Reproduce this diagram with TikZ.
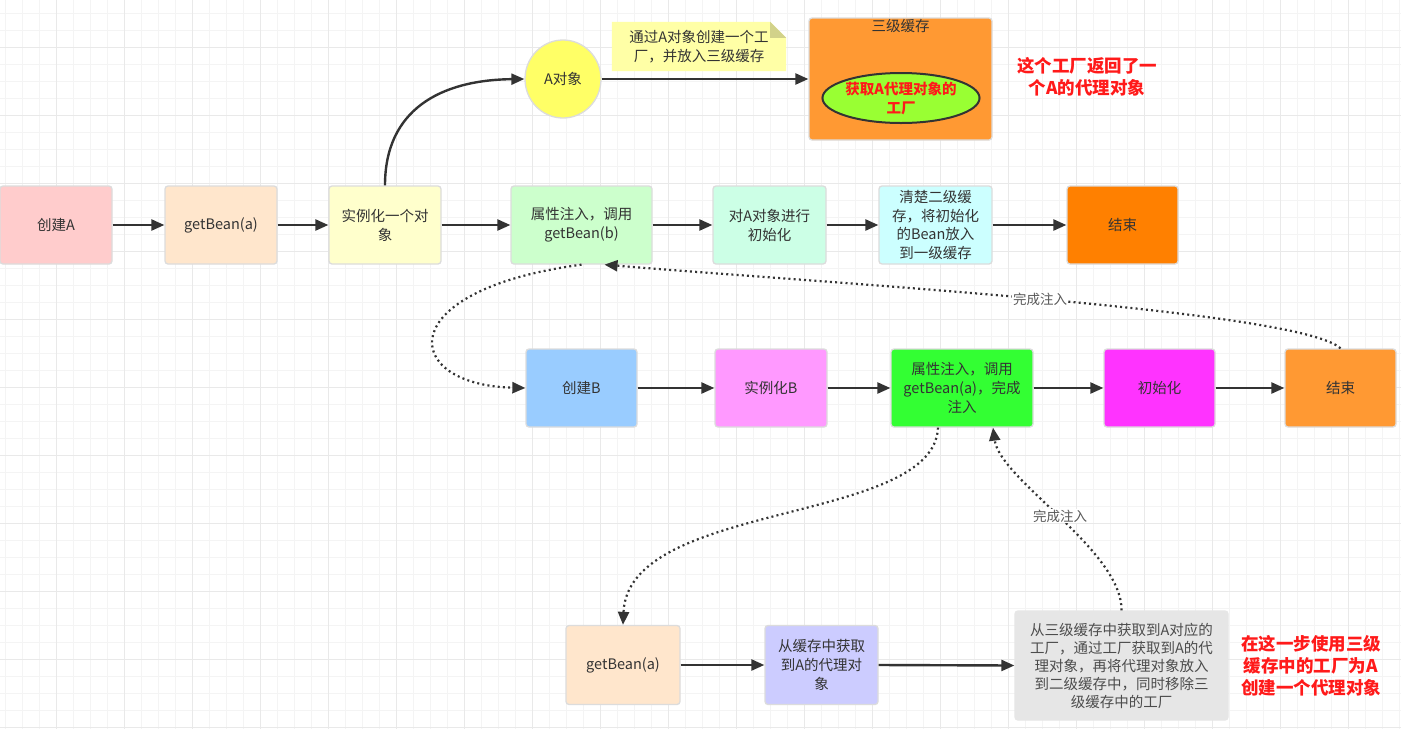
\documentclass[tikz,border=0pt]{standalone}
\usepackage{fontspec}
\setmainfont{Noto Sans CJK SC}
\usetikzlibrary{arrows.meta,shapes.geometric}
\definecolor{txt}{HTML}{333333}
\definecolor{arr}{HTML}{333333}
\definecolor{gmin}{HTML}{F4F4F4}
\definecolor{gmaj}{HTML}{E9E9E9}
\definecolor{cA}{HTML}{FFCCCC}
\definecolor{cB}{HTML}{FFE6CC}
\definecolor{cC}{HTML}{FFFFCC}
\definecolor{cD}{HTML}{CCFFCC}
\definecolor{cE}{HTML}{CCFFE6}
\definecolor{cF}{HTML}{CCFFFF}
\definecolor{cG}{HTML}{FF8000}
\definecolor{cH}{HTML}{99CCFF}
\definecolor{cI}{HTML}{FF99FF}
\definecolor{cJ}{HTML}{33FF33}
\definecolor{cK}{HTML}{FF33FF}
\definecolor{cL}{HTML}{FF9933}
\definecolor{cM}{HTML}{CCCCFF}
\definecolor{cN}{HTML}{E6E6E6}
\definecolor{cO}{HTML}{FFFF66}
\definecolor{cP}{HTML}{99FF33}
\definecolor{note}{HTML}{FFFFA6}
\definecolor{notefold}{HTML}{D2D28A}
\definecolor{redtxt}{HTML}{FF1A1A}
\definecolor{bord}{HTML}{DCDCDC}
\begin{document}
\begin{tikzpicture}[x=1pt,y=-1pt,
  box/.style={draw=bord, line width=1.3pt, rounded corners=3pt, align=center,
    text=txt, font=\fontsize{14.5}{19}\selectfont, inner sep=1pt},
  flow/.style={line width=2.4pt, draw=arr, -{Triangle[length=13pt,width=11pt]}},
  dots/.style={line width=2.2pt, draw=arr, dash pattern=on 2pt off 3.2pt,
    -{Triangle[length=13pt,width=11pt]}},
  lab/.style={fill=white, text=black!65, font=\fontsize{13.5}{15}\selectfont, inner sep=1pt},
  redlab/.style={text=redtxt, font=\fontsize{17.5}{22}\selectfont\bfseries, align=center},
  gminor/.style={draw=gmin, line width=1pt},
  gmajor/.style={draw=gmaj, line width=1pt}]
\useasboundingbox (0,0) rectangle (1401,729);
\fill[white] (0,0) rectangle (1401,729);
% grid
\foreach \x in {5,22,...,1401} \draw[gminor] (\x,0) -- (\x,729);
\foreach \y in {13,30,...,729} \draw[gminor] (0,\y) -- (1401,\y);
\foreach \x in {56,124,...,1401} \draw[gmajor] (\x,0) -- (\x,729);
\foreach \y in {47,115,...,729} \draw[gmajor] (0,\y) -- (1401,\y);

% top elements
\node[draw=bord, line width=1.3pt, fill=cO, ellipse, minimum width=76pt, minimum height=78pt,
  text=txt, font=\fontsize{14.5}{19}\selectfont, inner sep=0pt] (oa) at (563,79) {A对象};
\node[minimum width=174pt, minimum height=49pt, inner sep=0pt] (nt) at (699,46.5) {};
\fill[note] (nt.north west) -- ([xshift=-16pt]nt.north east) -- ([yshift=-16pt]nt.north east)
   -- (nt.south east) -- (nt.south west) -- cycle;
\fill[notefold] ([xshift=-16pt]nt.north east) -- ([yshift=-16pt]nt.north east)
   -- ([xshift=-16pt,yshift=-16pt]nt.north east) -- cycle;
\node[align=center, text=txt, font=\fontsize{14.5}{19}\selectfont] (ntt) at (nt.center) {通过A对象创建一个工\\厂，并放入三级缓存};
\node[box, fill=cL, minimum width=183pt, minimum height=122pt] (cache) at (900.5,79) {};
\node[text=txt, font=\fontsize{14.5}{19}\selectfont, anchor=north, inner sep=2pt] (cachet) at (cache.north) {三级缓存};
\node[draw=arr, line width=2pt, fill=cP, ellipse, minimum width=150pt, minimum height=50pt,
  align=center, text=redtxt, font=\fontsize{14.5}{19}\selectfont\bfseries, inner sep=0pt] (fac) at (901,98) {获取A代理对象的\\工厂};
\node[redlab] (r1) at (1087,77) {这个工厂返回了一\\个A的代理对象};

% row 1
\node[box, fill=cA, minimum width=112pt, minimum height=78pt] (a1) at (56,225) {创建A};
\node[box, fill=cB, minimum width=112pt, minimum height=78pt] (a2) at (221,225) {getBean(a)};
\node[box, fill=cC, minimum width=112pt, minimum height=78pt] (a3) at (385,225) {实例化一个对\\象};
\node[box, fill=cD, minimum width=141pt, minimum height=78pt] (a4) at (581.5,225) {属性注入，调用\\getBean(b)};
\node[box, fill=cE, minimum width=113pt, minimum height=78pt] (a5) at (769.5,225) {对A对象进行\\初始化};
\node[box, fill=cF, minimum width=113pt, minimum height=78pt, font=\fontsize{14.5}{18.7}\selectfont] (a6) at (935.5,225) {清楚二级缓\\存，将初始化\\的Bean放入\\到一级缓存};
\node[box, fill=cG, minimum width=111pt, minimum height=78pt] (a7) at (1122.5,225) {结束};

% row 2
\node[box, fill=cH, minimum width=111pt, minimum height=78pt] (b1) at (581.5,388) {创建B};
\node[box, fill=cI, minimum width=112pt, minimum height=78pt] (b2) at (771,388) {实例化B};
\node[box, fill=cJ, minimum width=142pt, minimum height=78pt] (b3) at (962,388) {属性注入，调用\\getBean(a)，完成\\注入};
\node[box, fill=cK, minimum width=111pt, minimum height=78pt] (b4) at (1159.5,388) {初始化};
\node[box, fill=cL, minimum width=111pt, minimum height=78pt] (b5) at (1340.5,388) {结束};

% row 3
\node[box, fill=cB, minimum width=114pt, minimum height=79pt] (c1) at (623,665) {getBean(a)};
\node[box, fill=cM, minimum width=113pt, minimum height=79pt] (c2) at (821.5,665) {从缓存中获取\\到A的代理对\\象};
\node[box, fill=cN, draw=cN, minimum width=213pt, minimum height=109pt, text=black!70,
  font=\fontsize{14.5}{18}\selectfont] (c3) at (1121.5,665.5) {从三级缓存中获取到A对应的\\工厂，通过工厂获取到A的代\\理对象，再将代理对象放入\\到二级缓存中，同时移除三\\级缓存中的工厂};
\node[redlab] (r2) at (1311,666) {在这一步使用三级\\缓存中的工厂为A\\创建一个代理对象};

% connectors
\draw[flow] (a1.east) -- (a2.west);
\draw[flow] (a2.east) -- (a3.west);
\draw[flow] (a3.east) -- (a4.west);
\draw[flow] (a4.east) -- (a5.west);
\draw[flow] (a5.east) -- (a6.west);
\draw[flow] (a6.east) -- (a7.west);
\draw[flow] (a3.north) .. controls (385,110) and (440,80) .. (oa.west);
\draw[flow] (oa.east) -- (cache.west);

\draw[flow] (b1.east) -- (b2.west);
\draw[flow] (b2.east) -- (b3.west);
\draw[flow] (b3.east) -- (b4.west);
\draw[flow] (b4.east) -- (b5.west);

\draw[flow] (c1.east) -- (c2.west);
\draw[flow] (c2.east) -- (c3.west);

\draw[dots] (a4.south) .. controls (390,290) and (400,385) .. (b1.west);
\draw[dots] (b5.north) .. controls (1300,310) and (825,283) .. node[lab, pos=0.5] {完成注入} ([xshift=23pt]a4.south);
\draw[dots] ([xshift=-24pt]b3.south) .. controls (934,525) and (628,500) .. (c1.north);
\draw[dots] (c3.north) .. controls (1122,550) and (1000,480) .. node[lab, pos=0.5] {完成注入} ([xshift=31pt]b3.south);
\end{tikzpicture}
\end{document}
